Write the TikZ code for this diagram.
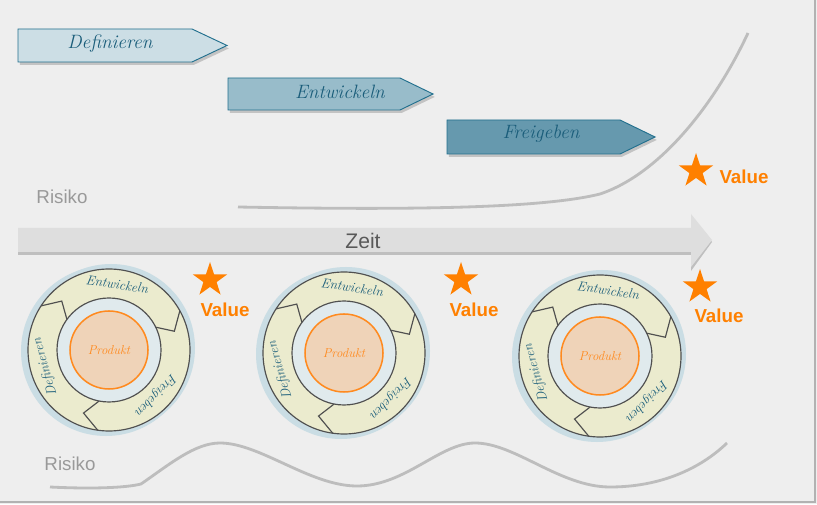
\documentclass[tikz,border=0pt]{standalone}
\usepackage{xcolor}
\usepackage{fontspec}
\setsansfont{Liberation Sans}
\usepackage{tikz}
\usetikzlibrary{shapes,arrows,positioning,calc}

\definecolor{bgcol}{HTML}{EEEEEE}
\definecolor{tealline}{HTML}{22708E}
\definecolor{tealtext}{HTML}{1A5D7A}
\definecolor{phaseA}{HTML}{CCDEE5}
\definecolor{phaseB}{HTML}{98BCCA}
\definecolor{phaseC}{HTML}{6699AE}
\definecolor{riskgray}{HTML}{BDBDBD}
\definecolor{zeitgray}{HTML}{DEDEDE}
\definecolor{valorange}{HTML}{FF8000}
\definecolor{blobblue}{HTML}{CADDE4}
\definecolor{ringcream}{HTML}{EBEBCE}
\definecolor{ringline}{HTML}{505050}
\definecolor{innerblue}{HTML}{E0EAED}
\definecolor{prodfill}{HTML}{EFD3B8}
\definecolor{prodline}{HTML}{FF8A1F}

\begin{document}
\begin{tikzpicture}[x=0.03cm,y=0.03cm,
    hand/.style={font=\itshape\fontsize{16.5}{18}\selectfont, text=tealtext},
    ringtext/.style={font=\itshape\fontsize{11.5}{12}\selectfont, text=tealtext, inner sep=0pt},
    phase/.style={draw=tealline, line width=0.8pt},
    phaseshadow/.style={fill=black, opacity=0.18, xshift=1.5pt, yshift=-2.5pt},
    risk/.style={draw=riskgray, line width=2.4pt},
    risklabel/.style={font=\sffamily\fontsize{16}{18}\selectfont, text=black!40},
    ring/.style={draw=ringline, line width=1pt},
    prodtext/.style={font=\itshape\fontsize{11}{12}\selectfont, text=prodline, inner sep=1pt},
    valstar/.style={star, star points=5, star point ratio=2.6, fill=valorange, minimum size=1.08cm, inner sep=0pt},
    valtext/.style={font=\sffamily\bfseries\fontsize{16}{18}\selectfont, text=valorange}]

\useasboundingbox (0,0) rectangle (817,504);
\fill[bgcol] (0,0) rectangle (817,504);
\draw[black!30, line width=2pt] (0,2) -- (815,2) -- (815,504);

% phase arrows
\fill[phaseshadow] (18,442) -- (192,442) -- (227,458.5) -- (192,475) -- (18,475) -- cycle;
\filldraw[phase, fill=phaseA] (18,442) -- (192,442) -- (227,458.5) -- (192,475) -- (18,475) -- cycle;
\node[hand] (def) at (110,460) {Definieren};

\fill[phaseshadow] (228,394) -- (400,394) -- (433,410) -- (400,426) -- (228,426) -- cycle;
\filldraw[phase, fill=phaseB] (228,394) -- (400,394) -- (433,410) -- (400,426) -- (228,426) -- cycle;
\node[hand] (ent) at (340,412) {Entwickeln};

\fill[phaseshadow] (447,350) -- (620,350) -- (655,367) -- (620,384) -- (447,384) -- cycle;
\filldraw[phase, fill=phaseC] (447,350) -- (620,350) -- (655,367) -- (620,384) -- (447,384) -- cycle;
\node[hand] (frei) at (541,370) {Freigeben};

% risk, sequential
\node[risklabel] (risk1) at (62,307) {Risiko};
\draw[risk] (238,297) .. controls (400,294) and (540,295) .. (600,310)
    .. controls (660,330) and (715,400) .. (748,471);

% time axis
\fill[black!25] (18,249) -- (691,249) -- (691,233) -- (712,262) -- (691,288) -- (691,273) -- (18,273) -- cycle;
\fill[zeitgray] (18,252) -- (691,252) -- (691,237) -- (712,264) -- (691,290) -- (691,276) -- (18,276) -- cycle;
\node[font=\sffamily\fontsize{18}{20}\selectfont, text=black!65] (zeit) at (363,263) {Zeit};

% iterative cycles
\foreach \i/\cx/\cy in {1/109/154, 2/344/151, 3/600/148} {
    \coordinate (c\i) at (\cx,\cy);
    \fill[blobblue] ([shift={(-3,-1)}]c\i) circle (85);
    \fill[blobblue] ([shift={(2,2)}]c\i) circle (84);
    \filldraw[ring, fill=ringcream] (c\i) circle (81);
    \filldraw[ring, fill=innerblue] (c\i) circle (52);
    \filldraw[draw=prodline, line width=1.3pt, fill=prodfill] (c\i) circle (39);
    \node[prodtext] (p\i) at (c\i) {Produkt};
    \draw[ring] ([shift={(147:81)}]c\i) -- ([shift={(134:68)}]c\i) -- ([shift={(144:52)}]c\i);
    \draw[ring] ([shift={(29:81)}]c\i) -- ([shift={(16:68)}]c\i) -- ([shift={(26:52)}]c\i);
    \draw[ring] ([shift={(262:81)}]c\i) -- ([shift={(248:68)}]c\i) -- ([shift={(259:52)}]c\i);
    \node[ringtext, rotate=-8] (e\i) at ([shift={(83:66)}]c\i) {Entwickeln};
    \node[ringtext, rotate=106] (d\i) at ([shift={(195:66)}]c\i) {Definieren};
    \node[ringtext, rotate=-134] (f\i) at ([shift={(-44:65)}]c\i) {Freigeben};
}

% value
\node[valstar] (s1) at (696,333) {};
\node[valtext] (v1) at (744,327) {Value};
\node[valstar] (s2) at (210,224) {};
\node[valtext] (v2) at (225,194) {Value};
\node[valstar] (s3) at (461,224) {};
\node[valtext] (v3) at (474,194) {Value};
\node[valstar] (s4) at (700,217) {};
\node[valtext] (v4) at (719,188) {Value};

% risk, iterative
\node[risklabel] (risk2) at (70,40) {Risiko};
\draw[risk] (50,17) .. controls (90,15) and (125,16) .. (141,20)
    .. controls (170,40) and (195,61) .. (220,61)
    .. controls (260,61) and (310,18) .. (357,18)
    .. controls (405,18) and (440,61) .. (475,61)
    .. controls (515,61) and (560,17) .. (610,17)
    .. controls (660,17) and (700,35) .. (727,61);
\end{tikzpicture}
\end{document}
